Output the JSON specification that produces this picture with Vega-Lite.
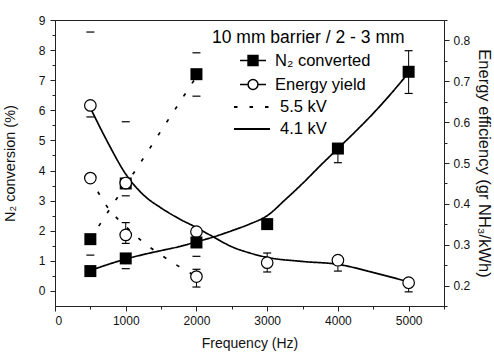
{
  "$schema": "https://vega.github.io/schema/vega-lite/v6.json",
  "width": 389,
  "height": 286,
  "autosize": "none",
  "padding": {"left": 55, "top": 20, "right": 50, "bottom": 48},
  "datasets": {
    "points": [
      {"f": 500, "v": 0.66, "measure": "N₂ converted", "kv": "4.1 kV"},
      {"f": 1000, "v": 1.08, "measure": "N₂ converted", "kv": "4.1 kV"},
      {"f": 2000, "v": 1.61, "measure": "N₂ converted", "kv": "4.1 kV"},
      {"f": 3000, "v": 2.22, "measure": "N₂ converted", "kv": "4.1 kV"},
      {"f": 4000, "v": 4.73, "measure": "N₂ converted", "kv": "4.1 kV"},
      {"f": 5000, "v": 7.28, "measure": "N₂ converted", "kv": "4.1 kV"},
      {"f": 500, "v": 1.72, "measure": "N₂ converted", "kv": "5.5 kV"},
      {"f": 1000, "v": 3.57, "measure": "N₂ converted", "kv": "5.5 kV"},
      {"f": 2000, "v": 7.2, "measure": "N₂ converted", "kv": "5.5 kV"},
      {"f": 500, "v": 0.641, "measure": "Energy yield", "kv": "4.1 kV"},
      {"f": 1000, "v": 0.451, "measure": "Energy yield", "kv": "4.1 kV"},
      {"f": 2000, "v": 0.332, "measure": "Energy yield", "kv": "4.1 kV"},
      {"f": 3000, "v": 0.256, "measure": "Energy yield", "kv": "4.1 kV"},
      {"f": 4000, "v": 0.262, "measure": "Energy yield", "kv": "4.1 kV"},
      {"f": 5000, "v": 0.207, "measure": "Energy yield", "kv": "4.1 kV"},
      {"f": 500, "v": 0.463, "measure": "Energy yield", "kv": "5.5 kV"},
      {"f": 1000, "v": 0.324, "measure": "Energy yield", "kv": "5.5 kV"},
      {"f": 2000, "v": 0.222, "measure": "Energy yield", "kv": "5.5 kV"}
    ],
    "curves": [
      {"f": 500, "v": 0.68, "measure": "N₂ converted", "kv": "4.1 kV"},
      {"f": 750, "v": 0.88, "measure": "N₂ converted", "kv": "4.1 kV"},
      {"f": 1000, "v": 1.06, "measure": "N₂ converted", "kv": "4.1 kV"},
      {"f": 1250, "v": 1.21, "measure": "N₂ converted", "kv": "4.1 kV"},
      {"f": 1500, "v": 1.34, "measure": "N₂ converted", "kv": "4.1 kV"},
      {"f": 1750, "v": 1.47, "measure": "N₂ converted", "kv": "4.1 kV"},
      {"f": 2000, "v": 1.63, "measure": "N₂ converted", "kv": "4.1 kV"},
      {"f": 2250, "v": 1.8, "measure": "N₂ converted", "kv": "4.1 kV"},
      {"f": 2500, "v": 2.0, "measure": "N₂ converted", "kv": "4.1 kV"},
      {"f": 2750, "v": 2.22, "measure": "N₂ converted", "kv": "4.1 kV"},
      {"f": 3000, "v": 2.5, "measure": "N₂ converted", "kv": "4.1 kV"},
      {"f": 3250, "v": 3.02, "measure": "N₂ converted", "kv": "4.1 kV"},
      {"f": 3500, "v": 3.57, "measure": "N₂ converted", "kv": "4.1 kV"},
      {"f": 3750, "v": 4.16, "measure": "N₂ converted", "kv": "4.1 kV"},
      {"f": 4000, "v": 4.73, "measure": "N₂ converted", "kv": "4.1 kV"},
      {"f": 4250, "v": 5.3, "measure": "N₂ converted", "kv": "4.1 kV"},
      {"f": 4500, "v": 5.9, "measure": "N₂ converted", "kv": "4.1 kV"},
      {"f": 4750, "v": 6.55, "measure": "N₂ converted", "kv": "4.1 kV"},
      {"f": 5000, "v": 7.25, "measure": "N₂ converted", "kv": "4.1 kV"},
      {"f": 500, "v": 1.72, "measure": "N₂ converted", "kv": "5.5 kV"},
      {"f": 750, "v": 2.63, "measure": "N₂ converted", "kv": "5.5 kV"},
      {"f": 1000, "v": 3.52, "measure": "N₂ converted", "kv": "5.5 kV"},
      {"f": 1250, "v": 4.41, "measure": "N₂ converted", "kv": "5.5 kV"},
      {"f": 1500, "v": 5.32, "measure": "N₂ converted", "kv": "5.5 kV"},
      {"f": 1750, "v": 6.22, "measure": "N₂ converted", "kv": "5.5 kV"},
      {"f": 2000, "v": 7.12, "measure": "N₂ converted", "kv": "5.5 kV"},
      {"f": 500, "v": 0.635, "measure": "Energy yield", "kv": "4.1 kV"},
      {"f": 750, "v": 0.549, "measure": "Energy yield", "kv": "4.1 kV"},
      {"f": 1000, "v": 0.473, "measure": "Energy yield", "kv": "4.1 kV"},
      {"f": 1250, "v": 0.422, "measure": "Energy yield", "kv": "4.1 kV"},
      {"f": 1500, "v": 0.39, "measure": "Energy yield", "kv": "4.1 kV"},
      {"f": 1750, "v": 0.364, "measure": "Energy yield", "kv": "4.1 kV"},
      {"f": 2000, "v": 0.342, "measure": "Energy yield", "kv": "4.1 kV"},
      {"f": 2250, "v": 0.318, "measure": "Energy yield", "kv": "4.1 kV"},
      {"f": 2500, "v": 0.295, "measure": "Energy yield", "kv": "4.1 kV"},
      {"f": 2750, "v": 0.28, "measure": "Energy yield", "kv": "4.1 kV"},
      {"f": 3000, "v": 0.269, "measure": "Energy yield", "kv": "4.1 kV"},
      {"f": 3500, "v": 0.259, "measure": "Energy yield", "kv": "4.1 kV"},
      {"f": 4000, "v": 0.252, "measure": "Energy yield", "kv": "4.1 kV"},
      {"f": 4500, "v": 0.232, "measure": "Energy yield", "kv": "4.1 kV"},
      {"f": 5000, "v": 0.209, "measure": "Energy yield", "kv": "4.1 kV"},
      {"f": 500, "v": 0.463, "measure": "Energy yield", "kv": "5.5 kV"},
      {"f": 750, "v": 0.39, "measure": "Energy yield", "kv": "5.5 kV"},
      {"f": 1000, "v": 0.345, "measure": "Energy yield", "kv": "5.5 kV"},
      {"f": 1250, "v": 0.306, "measure": "Energy yield", "kv": "5.5 kV"},
      {"f": 1500, "v": 0.275, "measure": "Energy yield", "kv": "5.5 kV"},
      {"f": 1750, "v": 0.247, "measure": "Energy yield", "kv": "5.5 kV"},
      {"f": 2000, "v": 0.222, "measure": "Energy yield", "kv": "5.5 kV"}
    ],
    "errbars": [
      {"f": 5000, "lo": 6.56, "hi": 7.98},
      {"f": 3000, "lo": 0.63, "hi": 1.26},
      {"f": 1000, "lo": 1.58, "hi": 2.27},
      {"f": 2000, "lo": 0.13, "hi": 0.72},
      {"f": 4000, "lo": 0.66, "hi": 0.88},
      {"f": 5000, "lo": -0.03, "hi": 0.25},
      {"f": 4000, "lo": 4.26, "hi": 4.73}
    ],
    "caps": [
      {"f": 500, "v": 8.6},
      {"f": 500, "v": 5.78},
      {"f": 500, "v": 1.19},
      {"f": 1000, "v": 5.62},
      {"f": 1000, "v": 3.16},
      {"f": 1000, "v": 0.74},
      {"f": 2000, "v": 7.91},
      {"f": 2000, "v": 6.47},
      {"f": 2000, "v": 1.15}
    ]
  },
  "encoding": {
    "x": {"field": "f", "type": "quantitative", "scale": {"domain": [0, 5500], "nice": false, "zero": false},
      "axis": {"title": "Frequency (Hz)", "values": [0, 500, 1000, 1500, 2000, 2500, 3000, 3500, 4000, 4500, 5000, 5500],
        "labelExpr": "datum.value % 1000 == 0 ? format(datum.value, 'd') : ''",
        "tickSize": {"condition": {"test": "datum.value % 1000 == 0", "value": 5}, "value": 3},
        "labelPadding": 4, "titlePadding": 10, "titleFontSize": 14}}
  },
  "layer": [
    {
      "data": {"name": "curves"},
      "transform": [{"filter": "datum.measure == 'N₂ converted'"}],
      "mark": {"type": "line", "interpolate": "monotone", "color": "black", "strokeWidth": 1.7},
      "encoding": {
        "y": {"field": "v", "type": "quantitative", "scale": {"domain": [-0.5, 9], "nice": false, "zero": false},
          "axis": {"orient": "left", "title": "N₂ conversion (%)", "values": [0, 0.5, 1, 1.5, 2, 2.5, 3, 3.5, 4, 4.5, 5, 5.5, 6, 6.5, 7, 7.5, 8, 8.5, 9],
            "labelExpr": "datum.value % 1 == 0 ? format(datum.value, 'd') : ''",
            "tickSize": {"condition": {"test": "datum.value % 1 == 0", "value": 5}, "value": 3},
            "labelPadding": 5, "titlePadding": 21, "titleFontSize": 14.5}},
        "strokeDash": {"field": "kv", "type": "nominal",
          "scale": {"domain": ["5.5 kV", "4.1 kV"], "range": [[3.5, 12], [1, 0]]},
          "legend": {"title": null, "orient": "none", "legendX": 187, "legendY": 77, "padding": 0, "labelFontSize": 16.5, "labelColor": "black", "labelOffset": 18, "symbolSize": 324, "symbolStrokeWidth": 1.9, "symbolStrokeColor": "black", "symbolType": "M-2,0H2", "rowPadding": 3}}
      }
    },
    {
      "data": {"name": "curves"},
      "transform": [{"filter": "datum.measure == 'Energy yield'"}],
      "mark": {"type": "line", "interpolate": "monotone", "color": "black", "strokeWidth": 1.7},
      "encoding": {
        "y": {"field": "v", "type": "quantitative", "scale": {"domain": [0.15, 0.85], "nice": false, "zero": false},
          "axis": {"orient": "right", "title": "Energy efficiency (gr NH₃/kWh)", "values": [0.15, 0.2, 0.25, 0.3, 0.35, 0.4, 0.45, 0.5, 0.55, 0.6, 0.65, 0.7, 0.75, 0.8, 0.85],
            "labelExpr": "abs(round(datum.value*10) - datum.value*10) < 0.001 ? format(datum.value, '.1f') : ''",
            "tickSize": {"condition": {"test": "abs(round(datum.value*10) - datum.value*10) < 0.001", "value": 5}, "value": 3},
            "labelPadding": 4, "titlePadding": 6, "titleFontSize": 16.5}},
        "strokeDash": {"field": "kv", "type": "nominal",
          "scale": {"domain": ["5.5 kV", "4.1 kV"], "range": [[3.5, 12], [1, 0]]},
          "legend": {"title": null, "orient": "none", "legendX": 187, "legendY": 77, "padding": 0, "labelFontSize": 16.5, "labelColor": "black", "labelOffset": 18, "symbolSize": 324, "symbolStrokeWidth": 1.9, "symbolStrokeColor": "black", "symbolType": "M-2,0H2", "rowPadding": 3}}
      }
    },
    {
      "data": {"name": "errbars"},
      "mark": {"type": "rule", "color": "black", "strokeWidth": 1},
      "encoding": {
        "y": {"field": "lo", "type": "quantitative", "scale": {"domain": [-0.5, 9], "nice": false, "zero": false}, "axis": null},
        "y2": {"field": "hi"}
      }
    },
    {
      "data": {"name": "errbars"},
      "mark": {"type": "tick", "orient": "horizontal", "size": 8, "thickness": 1.2, "color": "black", "opacity": 1},
      "encoding": {
        "y": {"field": "lo", "type": "quantitative", "scale": {"domain": [-0.5, 9], "nice": false, "zero": false}, "axis": null}
      }
    },
    {
      "data": {"name": "errbars"},
      "mark": {"type": "tick", "orient": "horizontal", "size": 8, "thickness": 1.2, "color": "black", "opacity": 1},
      "encoding": {
        "y": {"field": "hi", "type": "quantitative", "scale": {"domain": [-0.5, 9], "nice": false, "zero": false}, "axis": null}
      }
    },
    {
      "data": {"name": "caps"},
      "mark": {"type": "tick", "orient": "horizontal", "size": 8, "thickness": 1.2, "color": "black", "opacity": 1},
      "encoding": {
        "y": {"field": "v", "type": "quantitative", "scale": {"domain": [-0.5, 9], "nice": false, "zero": false}, "axis": null}
      }
    },
    {
      "data": {"name": "points"},
      "transform": [{"filter": "datum.measure == 'N₂ converted' && datum.kv == '5.5 kV'"}],
      "mark": {"type": "point", "shape": "square", "filled": true, "color": "black", "size": 144, "opacity": 1},
      "encoding": {
        "y": {"field": "v", "type": "quantitative", "scale": {"domain": [-0.5, 9], "nice": false, "zero": false}, "axis": null}
      }
    },
    {
      "data": {"name": "points"},
      "transform": [{"filter": "datum.measure == 'Energy yield'"}],
      "mark": {"type": "point", "shape": "circle", "fill": "white", "stroke": "black", "strokeWidth": 1.2, "size": 133, "opacity": 1},
      "encoding": {
        "y": {"field": "v", "type": "quantitative", "scale": {"domain": [0.15, 0.85], "nice": false, "zero": false}, "axis": null}
      }
    },
    {
      "data": {"name": "points"},
      "transform": [{"filter": "datum.measure == 'N₂ converted' && datum.kv == '4.1 kV'"}],
      "mark": {"type": "point", "shape": "square", "filled": true, "color": "black", "size": 144, "opacity": 1},
      "encoding": {
        "y": {"field": "v", "type": "quantitative", "scale": {"domain": [-0.5, 9], "nice": false, "zero": false}, "axis": null}
      }
    },
    {
      "data": {"name": "points"},
      "transform": [{"filter": "datum.kv == '4.1 kV' && datum.f == 500"}],
      "mark": {"type": "point", "opacity": 0},
      "encoding": {
        "y": {"field": "v", "type": "quantitative", "scale": {"domain": [-0.5, 9], "nice": false, "zero": false}, "axis": null},
        "shape": {"field": "measure", "type": "nominal",
          "scale": {"domain": ["N₂ converted", "Energy yield"], "range": ["M-1,0H-0.38M-0.38,-0.38H0.38V0.38H-0.38ZM0.38,0H1", "M-1,0H-0.38M-0.38,0A0.38,0.38 0 1,0 0.38,0A0.38,0.38 0 1,0 -0.38,0ZM0.38,0H1"]},
          "legend": {"title": "10 mm barrier / 2 - 3 mm", "orient": "none", "legendX": 157, "legendY": 9, "padding": 0, "titleFontSize": 17.5, "titleFontWeight": "normal", "titleColor": "black", "titlePadding": 0, "titleLimit": 400, "labelFontSize": 16.5, "labelColor": "black", "symbolOffset": 27, "labelOffset": 8, "rowPadding": 1, "symbolSize": 676, "symbolStrokeWidth": 1.5, "symbolOpacity": 1}},
        "fill": {"field": "measure", "type": "nominal",
          "scale": {"domain": ["N₂ converted", "Energy yield"], "range": ["black", "white"]},
          "legend": {"title": "10 mm barrier / 2 - 3 mm", "orient": "none", "legendX": 157, "legendY": 9, "padding": 0, "titleFontSize": 17.5, "titleFontWeight": "normal", "titleColor": "black", "titlePadding": 0, "titleLimit": 400, "labelFontSize": 16.5, "labelColor": "black", "symbolOffset": 27, "labelOffset": 8, "rowPadding": 1, "symbolSize": 676, "symbolStrokeWidth": 1.5, "symbolOpacity": 1}},
        "stroke": {"field": "measure", "type": "nominal",
          "scale": {"domain": ["N₂ converted", "Energy yield"], "range": ["black", "black"]},
          "legend": {"title": "10 mm barrier / 2 - 3 mm", "orient": "none", "legendX": 157, "legendY": 9, "padding": 0, "titleFontSize": 17.5, "titleFontWeight": "normal", "titleColor": "black", "titlePadding": 0, "titleLimit": 400, "labelFontSize": 16.5, "labelColor": "black", "symbolOffset": 27, "labelOffset": 8, "rowPadding": 1, "symbolSize": 676, "symbolStrokeWidth": 1.5, "symbolOpacity": 1}}
      }
    }
  ],
  "resolve": {"scale": {"y": "independent"}},
  "config": {
    "font": "Liberation Sans",
    "view": {"stroke": "#222", "strokeWidth": 1},
    "axis": {"grid": false, "domainColor": "#222", "tickColor": "#222", "labelColor": "#111", "titleColor": "#111", "labelFontSize": 12, "titleFontWeight": "normal", "domainWidth": 1, "tickWidth": 1},
    "legend": {"labelFont": "Liberation Sans", "titleFont": "Liberation Sans"}
  }
}
